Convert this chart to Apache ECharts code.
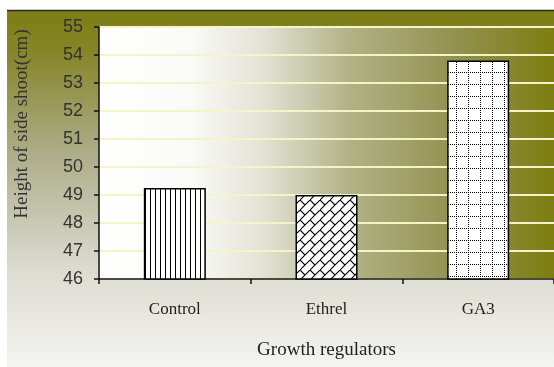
<!DOCTYPE html>
<html>
<head>
<meta charset="utf-8">
<script src="https://cdn.jsdelivr.net/npm/echarts@6/dist/echarts.min.js"></script>
<style>
  html, body { margin: 0; padding: 0; background: #ffffff; }
  #chart { width: 554px; height: 367px; }
</style>
</head>
<body>
<div id="chart"></div>
<script>
// Growth regulator treatments and mean side-shoot height (cm)
const categories = ['Control', 'Ethrel', 'GA3'];
const heights = [49.25, 49.0, 53.8];
const yTicks = { min: 46, max: 55, step: 1 };

// Hatch fills for the three bars
function makeTile(w, h, draw) {
  const c = document.createElement('canvas');
  c.width = w; c.height = h;
  const g = c.getContext('2d');
  g.fillStyle = '#ffffff';
  g.fillRect(0, 0, w, h);
  g.fillStyle = '#000000';
  g.strokeStyle = '#000000';
  draw(g);
  return c;
}
const verticalLines = makeTile(5, 5, g => { g.fillRect(0, 0, 1, 5); });
const diagonalBrick = makeTile(10, 10, g => {
  g.lineWidth = 1.1;
  g.beginPath();
  g.moveTo(-1, 11); g.lineTo(11, -1);
  g.moveTo(0, 0); g.lineTo(5, 5);
  g.stroke();
});
const dottedGrid = makeTile(12, 12, g => {
  for (let i = 0; i < 12; i += 2) {
    g.fillRect(i, 0, 1, 1);
    g.fillRect(0, i, 1, 1);
  }
});
const fills = [verticalLines, diagonalBrick, dottedGrid];

const chart = echarts.init(document.getElementById('chart'), null, { renderer: 'canvas' });

chart.setOption({
  animation: false,
  backgroundColor: '#ffffff',
  graphic: [
    {
      type: 'rect', z: -10, silent: true,
      shape: { x: 7, y: 10, width: 560, height: 360 },
      style: {
        fill: new echarts.graphic.LinearGradient(0, 0, 0, 1, [
          { offset: 0, color: '#7d7d14' },
          { offset: 0.12, color: '#86862a' },
          { offset: 0.4, color: '#adad8a' },
          { offset: 0.72, color: '#dcdbd0' },
          { offset: 1, color: '#f5f5f2' }
        ])
      }
    },
    {
      type: 'line', z: 10, silent: true,
      shape: { x1: 7, y1: 10.5, x2: 560, y2: 10.5 },
      style: { stroke: '#2a2a20', lineWidth: 1.5 }
    },
    {
      type: 'text', z: 10, silent: true,
      x: 22, y: 124, rotation: Math.PI / 2,
      style: {
        text: 'Height of side shoot(cm)',
        font: '19px "Liberation Serif", "Times New Roman", serif',
        fill: '#333333',
        align: 'center', verticalAlign: 'middle'
      }
    }
  ],
  grid: {
    left: 99, top: 27, right: -2, bottom: 88,
    show: true, borderWidth: 0,
    backgroundColor: new echarts.graphic.LinearGradient(0, 0, 1, 0, [
      { offset: 0, color: '#ffffff' },
      { offset: 0.2, color: '#fafaf7' },
      { offset: 0.36, color: '#e2e2d6' },
      { offset: 0.55, color: '#b2b286' },
      { offset: 0.78, color: '#929250' },
      { offset: 1, color: '#7e7e12' }
    ])
  },
  xAxis: {
    type: 'category',
    data: categories,
    name: 'Growth regulators',
    nameLocation: 'middle',
    nameGap: 62,
    nameTextStyle: { fontFamily: '"Liberation Serif", serif', fontSize: 19, color: '#222222' },
    axisLine: { lineStyle: { color: '#111111', width: 1.5 } },
    axisTick: { show: true, length: 5, lineStyle: { color: '#111111', width: 1.5 } },
    axisLabel: { fontFamily: '"Liberation Serif", serif', fontSize: 17, color: '#222222', margin: 22 }
  },
  yAxis: {
    type: 'value',
    min: yTicks.min, max: yTicks.max, interval: yTicks.step,
    axisLine: { show: true, lineStyle: { color: '#111111', width: 1.5 } },
    axisTick: { show: true, length: 5, lineStyle: { color: '#111111', width: 1.5 } },
    axisLabel: { fontFamily: '"Liberation Sans", Arial, sans-serif', fontSize: 18, color: '#333333', margin: 16 },
    splitLine: { show: true, lineStyle: { color: '#f4f4c8', width: 2 } }
  },
  series: [{
    type: 'bar',
    barWidth: 62,
    data: heights.map((v, i) => ({
      value: v,
      itemStyle: { color: { image: fills[i], repeat: 'repeat' } }
    })),
    itemStyle: { borderColor: '#000000', borderWidth: 1.5 }
  }]
});
</script>
</body>
</html>
